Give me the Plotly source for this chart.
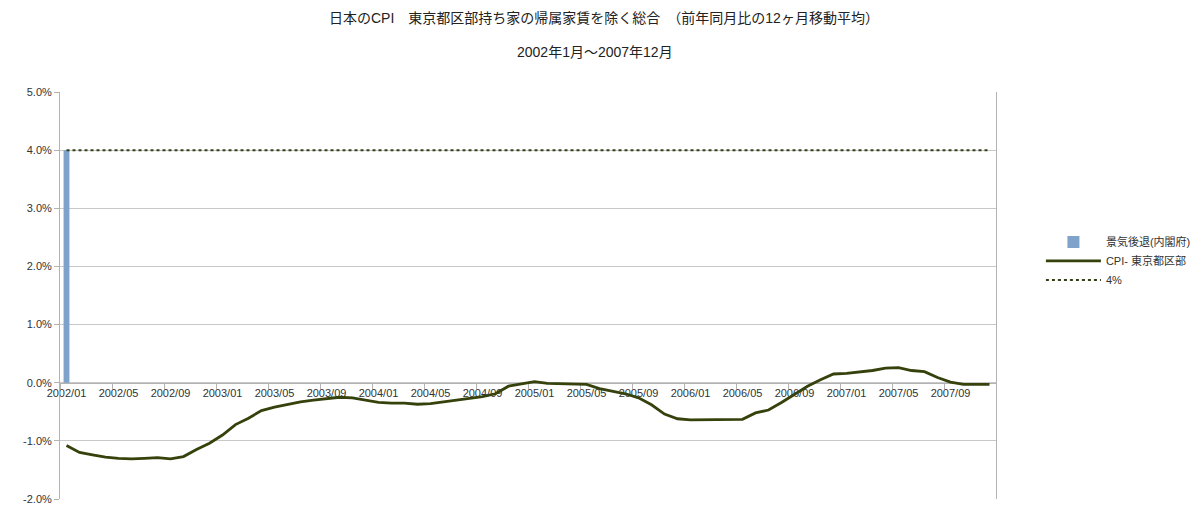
import plotly.graph_objects as go

# months 2002/01 .. 2007/12
months = [f"{y}/{m:02d}" for y in range(2002, 2008) for m in range(1, 13)]

# CPI (Tokyo wards, excl. imputed rent) - 12 month moving avg of YoY, %
cpi = [
    -1.08, -1.20, -1.24, -1.28, -1.30, -1.31, -1.30, -1.29, -1.31, -1.27, -1.15, -1.04,
    -0.90, -0.72, -0.61, -0.48, -0.42, -0.37, -0.33, -0.30, -0.28, -0.25, -0.26, -0.30,
    -0.34, -0.35, -0.35, -0.37, -0.36, -0.33, -0.30, -0.28, -0.24, -0.19, -0.06, -0.02,
    0.02, -0.01, -0.02, -0.02, -0.03, -0.10, -0.14, -0.19, -0.26, -0.38, -0.54, -0.62,
    -0.64, -0.64, -0.64, -0.64, -0.63, -0.52, -0.47, -0.34, -0.20, -0.06, 0.05, 0.15,
    0.16, 0.18, 0.21, 0.25, 0.26, 0.21, 0.19, 0.09, 0.01, -0.03, -0.03, -0.03,
]

# recession months (Cabinet Office)
recession_months = ["2002/01"]
recession_vals = [4.0]

# 4% reference line
ref_vals = [4.0] * len(months)

y_ticks = [-2, -1, 0, 1, 2, 3, 4, 5]
y_tick_labels = ["-2.0%", "-1.0%", "0.0%", "1.0%", "2.0%", "3.0%", "4.0%", "5.0%"]

FONT = "Liberation Sans, Arial, Noto Sans CJK JP, sans-serif"

fig = go.Figure()

fig.add_trace(go.Bar(
    x=recession_months, y=recession_vals, name="景気後退(内閣府)",
    marker=dict(color="#7ea2c9", line=dict(width=0)), width=0.45,
))
fig.add_trace(go.Scatter(
    x=months, y=cpi, mode="lines", name="CPI- 東京都区部",
    line=dict(color="#35420c", width=2.8),
))
fig.add_trace(go.Scatter(
    x=months, y=ref_vals, mode="lines", name="4%",
    line=dict(color="#34401a", width=2, dash="dot"),
))

# page has an 8px body margin, so margins are shifted to compensate
fig.update_layout(
    width=1200, height=524,
    margin=dict(l=52, r=212, t=84, b=33),
    paper_bgcolor="white", plot_bgcolor="white",
    font=dict(family=FONT, size=11, color="#333333"),
    showlegend=True,
    legend=dict(x=1.048, y=0.585, xanchor="left", yanchor="middle",
                itemwidth=55, font=dict(size=11, color="#333333"), tracegroupgap=0),
    annotations=[
        dict(text="日本のCPI　東京都区部持ち家の帰属家賃を除く総合　（前年同月比の12ヶ月移動平均）",
             xref="paper", yref="paper", x=0.581, y=1.182, showarrow=False,
             xanchor="center", yanchor="middle", font=dict(size=14, color="#222222")),
        dict(text="2002年1月～2007年12月",
             xref="paper", yref="paper", x=0.5716, y=1.098, showarrow=False,
             xanchor="center", yanchor="middle", font=dict(size=14, color="#222222")),
    ],
)

fig.update_xaxes(
    type="category", categoryorder="array", categoryarray=months,
    range=[-0.5, len(months) - 0.5],
    tickmode="linear", tick0=0, dtick=4, tickson="boundaries", tickangle=0,
    ticks="outside", ticklen=5, tickcolor="#b3b3b3",
    showgrid=False, showline=True, linecolor="#b3b3b3", linewidth=1,
    anchor="free", position=2 / 7, layer="below traces",
    tickfont=dict(size=11, color="#333333"),
)
fig.update_yaxes(
    range=[-2, 5], tickmode="array", tickvals=y_ticks, ticktext=y_tick_labels,
    showgrid=True, gridcolor="#c8c8c8", gridwidth=1,
    showline=True, linecolor="#b3b3b3", linewidth=1, mirror=True,
    ticks="outside", ticklen=5, tickcolor="#b3b3b3",
    zeroline=False, tickfont=dict(size=11, color="#333333"),
)

fig.write_html("out.html")
